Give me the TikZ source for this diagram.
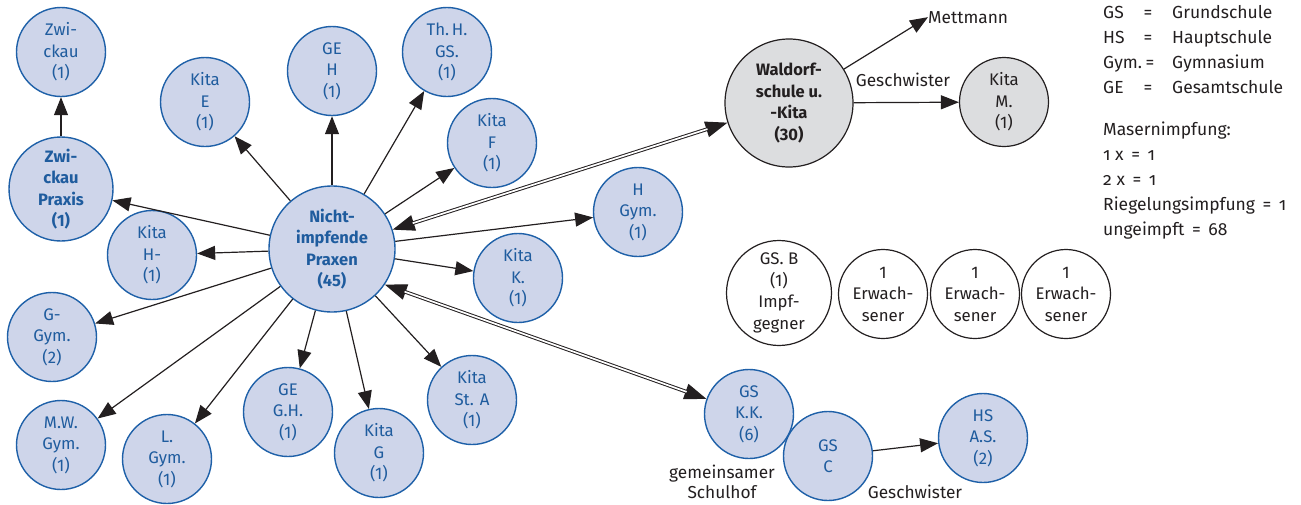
\documentclass[tikz,border=0pt]{standalone}
\usepackage{fontspec}
\setmainfont{Fira Sans}
\newfontfamily\oldnum{Fira Sans}[Numbers=OldStyle]
\usetikzlibrary{arrows.meta}
\definecolor{bfill}{HTML}{CED5EA}
\definecolor{bdraw}{HTML}{1E60A8}
\definecolor{btext}{HTML}{1F5C9E}
\definecolor{gfill}{HTML}{DCDDDF}
\definecolor{ink}{HTML}{231F20}
\begin{document}
\begin{tikzpicture}[x=1pt,y=-1pt,
  nfont/.style={font=\fontsize{16.8}{21.5}\selectfont},
  bnode/.style={circle, draw=bdraw, fill=bfill, text=btext, line width=1.4pt,
    inner sep=0pt, minimum size=89pt, align=center, nfont},
  bnodeb/.style={bnode, font=\fontsize{16.5}{21.5}\selectfont\bfseries},
  gnode/.style={circle, draw=ink, fill=gfill, text=ink, line width=1.2pt,
    inner sep=0pt, minimum size=89pt, align=center, nfont},
  wnode/.style={circle, draw=ink, fill=white, text=ink, line width=1.2pt,
    inner sep=0pt, minimum size=89pt, align=center, nfont},
  lbl/.style={text=ink, inner sep=0pt, align=center, font=\fontsize{17.3}{20}\selectfont},
  leg/.style={text=ink, inner sep=0pt, font=\fontsize{17.5}{20}\selectfont\oldnum},
  arr/.style={draw=ink, line width=1.2pt, -{Triangle[length=18pt,width=14pt]}},
  darr/.style={draw=ink, line width=1.2pt, {Triangle[length=22pt,width=16pt]}-{Triangle[length=22pt,width=16pt]}},
  dline/.style={draw=ink, line width=1pt, double=white, double distance=1.7pt,
    shorten <=21pt, shorten >=21pt},
]
\useasboundingbox (0,0) rectangle (1301,504);

% central node
\node[bnodeb, minimum size=126pt] (nicht) at (332,249) {Nicht-\\impfende\\Praxen\\(45)};

% surrounding nodes
\node[bnode] (zw) at (61,52) {Zwi-\\ckau\\(1)};
\node[bnodeb, minimum size=104pt] (zwp) at (61,189) {Zwi-\\ckau\\Praxis\\(1)};
\node[bnode] (kitae) at (205,102) {Kita\\E\\(1)};
\node[bnode] (geh) at (332,71) {GE\\H\\(1)};
\node[bnode] (thh) at (447,52) {Th.\,H.\\GS.\\(1)};
\node[bnode] (kitaf) at (492,143) {Kita\\F\\(1)};
\node[bnode] (hgym) at (638,212) {H\\Gym.\\(1)};
\node[bnode] (kitak) at (518,278) {Kita\\K.\\(1)};
\node[bnode] (kitasta) at (472,400) {Kita\\St. A\\(1)};
\node[bnode] (kitag) at (379,453) {Kita\\G\\(1)};
\node[bnode] (gegh) at (288,412) {GE\\G.H.\\(1)};
\node[bnode] (lgym) at (167,459) {L.\\Gym.\\(1)};
\node[bnode] (mwgym) at (61,445) {M.W.\\Gym.\\(1)};
\node[bnode] (ggym) at (52,337) {G-\\Gym.\\(2)};
\node[bnode] (kitah) at (152,255) {Kita\\H-\\(1)};

% Waldorf group
\node[gnode, minimum size=128pt, font=\fontsize{16.5}{21.5}\selectfont\bfseries] (wald) at (789,103) {Waldorf-\\schule u.\\-Kita\\(30)};
\node[gnode] (kitam) at (1004,102) {Kita\\M.\\(1)};
\node[lbl, anchor=base west] (mett) at (928,23) {Mettmann};
\node[lbl] (gesch1) at (903,80) {Geschwister};

% white nodes
\node[wnode, minimum size=105pt] (gsb) at (779,293) {GS. B\\(1)\\Impf-\\gegner};
\node[wnode] (erw1) at (883,294) {1\\Erwach-\\sener};
\node[wnode] (erw2) at (975,294) {1\\Erwach-\\sener};
\node[wnode] (erw3) at (1066,294) {1\\Erwach-\\sener};

% GS group
\node[bnode] (gskk) at (749,414) {GS\\K.K.\\(6)};
\node[bnode] (gsc) at (828,456) {GS\\C};
\node[bnode] (hsas) at (983,438) {HS\\A.S.\\(2)};
\node[lbl] (schulhof) at (722,482) {gemeinsamer\\Schulhof};
\node[lbl] (gesch2) at (915,492) {Geschwister};

% arrows from central node
\foreach \t in {zwp,kitae,geh,thh,kitaf,hgym,kitak,kitasta,kitag,gegh,lgym,mwgym,ggym,kitah}
  \draw[arr] (nicht) -- (\t);
\draw[arr] (zwp) -- (zw);

% double arrows
\draw[darr] (nicht) -- (wald);
\draw[dline] (nicht) -- (wald);
\draw[darr] (nicht.-34) -- (gskk);
\draw[dline] (nicht.-34) -- (gskk);

% Waldorf arrows
\draw[arr] (wald) -- (mett.west);
\draw[arr] (wald) -- (kitam);
\draw[arr] (gsc) -- (hsas);

% legend
\node[leg, anchor=base west] (l1a) at (1103,18) {GS};
\node[leg, anchor=base] (l1b) at (1148,18) {=};
\node[leg, anchor=base west] (l1c) at (1172,18) {Grundschule};
\node[leg, anchor=base west] (l2a) at (1103,43) {HS};
\node[leg, anchor=base] (l2b) at (1148,43) {=};
\node[leg, anchor=base west] (l2c) at (1172,43) {Hauptschule};
\node[leg, anchor=base west] (l3a) at (1103,68) {Gym.};
\node[leg, anchor=base] (l3b) at (1150,68) {=};
\node[leg, anchor=base west] (l3c) at (1172,68) {Gymnasium};
\node[leg, anchor=base west] (l4a) at (1103,93) {GE};
\node[leg, anchor=base] (l4b) at (1148,93) {=};
\node[leg, anchor=base west] (l4c) at (1172,93) {Gesamtschule};
\node[leg, anchor=base west] (l5) at (1103,135) {Masernimpfung:};
\node[leg, anchor=base west] (l6) at (1103,160) {1 x \,=\, 1};
\node[leg, anchor=base west] (l7) at (1103,185) {2 x \,=\, 1};
\node[leg, anchor=base west] (l8) at (1103,210) {Riegelungsimpfung \,=\, 1};
\node[leg, anchor=base west] (l9) at (1103,235) {ungeimpft \,=\, 68};
\end{tikzpicture}
\end{document}
